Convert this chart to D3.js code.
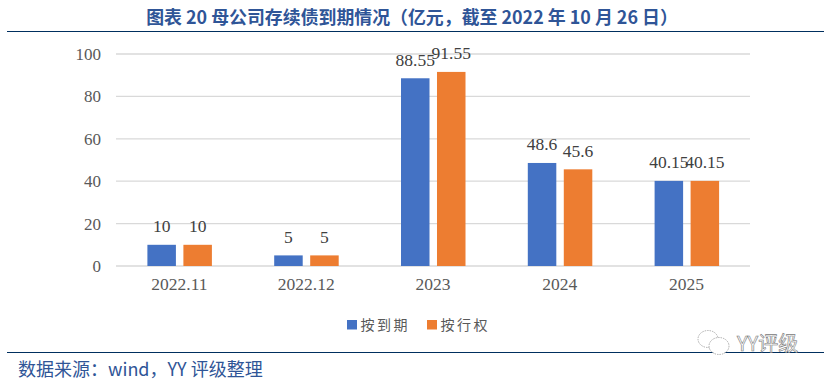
<!DOCTYPE html>
<html><head><meta charset="utf-8">
<script src="https://cdn.jsdelivr.net/npm/d3@7"></script>
<style>html,body{margin:0;padding:0;background:#fff}svg{display:block}</style>
</head><body><svg id="c" width="824" height="379"></svg>
<script>
const categories = ["2022.11","2022.12","2023","2024","2025"];
const seriesNames = ["按到期","按行权"];
const maturity = [10,5,88.55,48.6,40.15];
const putDate = [10,5,91.55,45.6,40.15];
const yTicks = [0,20,40,60,80,100];
const colors = ["#4472C4","#ED7D31"];
const titleText = "图表 20 母公司存续债到期情况（亿元，截至 2022 年 10 月 26 日）";
const sourceText = "数据来源：wind，YY 评级整理";
const watermark = "YY评级";

const svg = d3.select("#c");
const serif = "'Liberation Serif',serif";
const cjk = "'Noto Sans CJK SC','Noto Sans',sans-serif";
const x = d3.scaleBand().domain(categories).range([116,750]);
const y = d3.scaleLinear().domain([0,100]).range([266,54]);
const sub = d3.scaleBand().domain([0,1]).range([-32,32.5]).paddingInner(0.208);

// rules
[31,352].forEach(v=>svg.append("line").attr("x1",7).attr("x2",824).attr("y1",v+.5).attr("y2",v+.5).attr("stroke","#002F5F").attr("stroke-width",1.2));
svg.append("text").attr("x",412).attr("y",24).attr("text-anchor","middle")
  .attr("font-family",cjk).attr("font-weight",700).attr("font-size",17.9).attr("fill","#2F5597").text(titleText);

// grid
svg.append("g").selectAll("line").data(yTicks).join("line")
  .attr("x1",116).attr("x2",750).attr("y1",d=>y(d)).attr("y2",d=>y(d))
  .attr("stroke","#D9D9D9").attr("stroke-width",d=>d===0?1.5:1.3);

// y axis
const ya = svg.append("g").attr("transform","translate(116,0)").call(d3.axisLeft(y).tickValues(yTicks).tickSize(0).tickPadding(15));
ya.select(".domain").remove();
ya.selectAll("text").attr("font-family",serif).attr("font-size",17).attr("fill","#595959");
// x axis
const xa = svg.append("g").attr("transform","translate(0,266)").call(d3.axisBottom(x).tickSize(0).tickPadding(12));
xa.select(".domain").remove();
xa.selectAll("text").attr("font-family",serif).attr("font-size",17.5).attr("fill","#595959");

// bars + labels
[maturity,putDate].forEach((vals,i)=>{
  const g = svg.append("g");
  g.selectAll("rect").data(vals).join("rect")
    .attr("x",(d,j)=>x(categories[j])+x.bandwidth()/2+sub(i))
    .attr("width",sub.bandwidth())
    .attr("y",d=>y(d)).attr("height",d=>y(0)-y(d)).attr("fill",colors[i]);
  g.selectAll("text").data(vals).join("text")
    .attr("x",(d,j)=>x(categories[j])+x.bandwidth()/2+sub(i)+sub.bandwidth()/2)
    .attr("y",d=>y(d)-12.5).attr("text-anchor","middle")
    .attr("font-family",serif).attr("font-size",17.5).attr("fill","#404040").text(d=>d);
});

// legend
seriesNames.forEach((n,i)=>{
  const lx = 347+i*80;
  svg.append("rect").attr("x",lx).attr("y",320).attr("width",10).attr("height",9.5).attr("fill",colors[i]);
  svg.append("text").attr("x",lx+13.5).attr("y",330).attr("font-family","'Noto Sans CJK SC',serif")
    .attr("font-size",14).attr("letter-spacing",2.5).attr("fill","#595959").text(n);
});

// source
svg.append("text").attr("x",18).attr("y",375.5).attr("font-family",cjk).attr("font-size",18).attr("fill","#2F5597").text(sourceText);

// watermark
const wm = svg.append("g").attr("fill","#fff").attr("stroke","#999").attr("stroke-width",.8).attr("stroke-dasharray","1.5 1");
wm.append("ellipse").attr("cx",708).attr("cy",339).attr("rx",10).attr("ry",8.5);
wm.append("ellipse").attr("cx",719).attr("cy",346).attr("rx",10).attr("ry",8.5);
svg.append("text").attr("x",737).attr("y",351).attr("font-family",cjk).attr("font-size",20).attr("fill","#fff").attr("stroke","#777").attr("stroke-width",.6).text(watermark);
</script></body></html>
